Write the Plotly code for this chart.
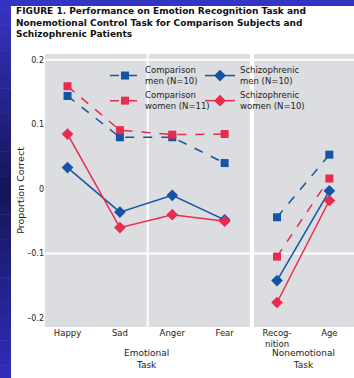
import plotly.graph_objects as go

# ---- data ----
categories = ["Happy", "Sad", "Anger", "Fear", "Recog-<br>nition", "Age"]
comparison_men = [0.144, 0.080, 0.080, 0.040, -0.044, 0.053]
comparison_women = [0.159, 0.091, 0.084, 0.085, -0.105, 0.016]
schizo_men = [0.033, -0.036, -0.010, -0.048, -0.142, -0.003]
schizo_women = [0.085, -0.060, -0.040, -0.050, -0.176, -0.018]
y_ticks = [0.2, 0.1, 0, -0.1, -0.2]
y_tick_labels = ["0.2", "0.1", "0", "\u20130.1", "\u20130.2"]

BLUE = "#1553a4"
RED = "#ea2a4e"
FONT = "DejaVu Sans, Liberation Sans, Arial, sans-serif"
W, H = 354, 378
L, R, T, B = 45, 0, 54, 51
PW, PH = W - L - R, H - T - B

def xp(px):
    return (px - L) / PW

def yp(py):
    return (H - B - py) / PH

emo = [0, 1, 2, 3]
non = [4, 5]

fig = go.Figure()

def add_series(vals, name, color, symbol, dash, legend, group):
    for i, idx in enumerate([emo, non]):
        fig.add_trace(go.Scatter(
            x=idx, y=[vals[j] for j in idx], mode="lines+markers",
            name=name, legend=legend, legendgroup=group, showlegend=(i == 0),
            line=dict(color=color, width=1.5, dash=dash),
            marker=dict(symbol=symbol, size=8 if symbol == "square" else 9, color=color),
        ))

add_series(comparison_men, "Comparison<br>men (N=10)", BLUE, "square", "dash", "legend", "a")
add_series(comparison_women, "Comparison<br>women (N=11)", RED, "square", "dash", "legend", "b")
add_series(schizo_men, "Schizophrenic<br>men (N=10)", BLUE, "diamond", "solid", "legend2", "c")
add_series(schizo_women, "Schizophrenic<br>women (N=10)", RED, "diamond", "solid", "legend2", "d")

shapes = []
for yv in [0.2, -0.1]:
    shapes.append(dict(type="line", xref="paper", yref="y", x0=0, x1=1, y0=yv, y1=yv,
                       line=dict(color="white", width=2), layer="below"))
shapes.append(dict(type="line", xref="x", yref="paper", x0=1.53, x1=1.53, y0=0, y1=1,
                   line=dict(color="white", width=2), layer="below"))
shapes.append(dict(type="line", xref="x", yref="paper", x0=3.52, x1=3.52, y0=0, y1=1,
                   line=dict(color="white", width=4), layer="below"))

def lerp(c1, c2, t):
    return "#%02x%02x%02x" % tuple(int(round(a + (b - a) * t)) for a, b in zip(c1, c2))

top_c, mid_c, bot_c = (0x35, 0x35, 0xc6), (0x15, 0x15, 0x5a), (0x2e, 0x2e, 0xbc)
nb = 30
for k in range(nb):
    y0, y1 = k * H / nb, (k + 1) * H / nb
    t = (k + 0.5) / nb
    c = lerp(top_c, mid_c, t / 0.5) if t < 0.5 else lerp(mid_c, bot_c, (t - 0.5) / 0.5)
    shapes.append(dict(type="rect", xref="paper", yref="paper",
                       x0=xp(0), x1=xp(11), y0=yp(y1 + 0.5), y1=yp(y0),
                       fillcolor=c, line=dict(width=0), layer="below"))
shapes.append(dict(type="rect", xref="paper", yref="paper",
                   x0=xp(0), x1=xp(W), y0=yp(6), y1=yp(0),
                   fillcolor="#3434c4", line=dict(width=0), layer="below"))

title_text = ("<b>FIGURE 1. Performance on Emotion Recognition Task and<br>"
              "Nonemotional Control Task for Comparison Subjects and<br>"
              "Schizophrenic Patients</b>")
annotations = [dict(text=title_text, xref="paper", yref="paper", x=xp(15), y=yp(5),
                    xanchor="left", yanchor="top", align="left", showarrow=False,
                    borderpad=0, font=dict(size=9, color="#111"))]
for txt, xc in [("Emotional<br>Task", 1.5), ("Nonemotional<br>Task", 4.5)]:
    annotations.append(dict(text=txt, xref="x", yref="paper", x=xc, y=yp(347),
                            xanchor="center", yanchor="top", showarrow=False, borderpad=0,
                            font=dict(size=9, color="#222")))

leg_common = dict(bgcolor="rgba(0,0,0,0)", font=dict(size=8.5, color="#222"),
                  xanchor="left", yanchor="top", traceorder="normal", itemwidth=30)

fig.update_layout(
    width=W, height=H,
    margin=dict(l=L, r=R, t=T, b=B),
    paper_bgcolor="white",
    plot_bgcolor="#dcdde0",
    font=dict(family=FONT, color="#222"),
    showlegend=True,
    legend=dict(x=xp(105), y=yp(58), **leg_common),
    legend2=dict(x=xp(200), y=yp(58), **leg_common),
    xaxis=dict(range=[-0.43, 5.47], tickvals=list(range(6)), ticktext=categories,
               showgrid=False, zeroline=False, showline=False, ticks="",
               ticklabelstandoff=-1, tickfont=dict(size=8.5)),
    yaxis=dict(range=[-0.214, 0.209], tickvals=y_ticks, ticktext=y_tick_labels,
               showgrid=False, zeroline=False, showline=False, ticks="",
               tickfont=dict(size=8),
               title=dict(text="Proportion Correct", font=dict(size=9.5), standoff=0)),
    shapes=shapes,
    annotations=annotations,
)

fig.write_html("out.html", config={"displayModeBar": False},
               post_script="document.body.style.margin='0';document.body.style.padding='0';")
